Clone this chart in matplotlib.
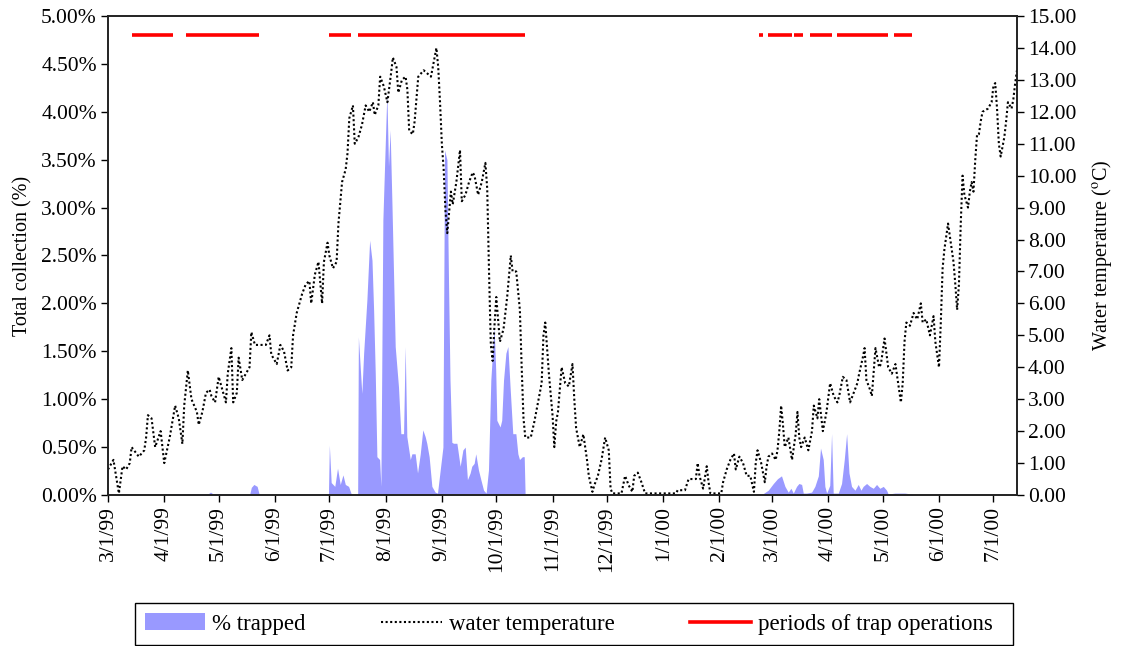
import matplotlib
matplotlib.use("Agg")
import matplotlib.pyplot as plt
import matplotlib.ticker as mticker
from matplotlib.patches import Patch, Rectangle
from matplotlib.lines import Line2D
import pandas as pd

# day offsets from 3/1/99
start_date = "1999-03-01"
end_day = 501

# water temperature (deg C)
temp_day = [0, 1, 3, 6, 8, 10, 12, 13, 17, 20, 21, 22, 24, 26, 29, 31, 34, 37, 39, 41,
            42, 44, 46, 49, 50, 52, 54, 56, 57, 59, 61, 63, 65, 66, 68, 69, 71, 72, 74, 76,
            78, 79, 81, 84, 87, 89, 90, 93, 95, 97, 99, 101, 102, 104, 107, 109, 111, 112, 114, 116,
            118, 119, 121, 122, 124, 126, 127, 129, 131, 132, 133, 135, 136, 138, 140, 142, 144, 146, 147, 149,
            150, 152, 154, 156, 157, 159, 160, 162, 164, 165, 166, 168, 169, 170, 171, 174, 176, 178, 179, 181,
            182, 183, 184, 185, 186, 187, 189, 190, 192, 194, 195, 197, 199, 201, 202, 204, 206, 208, 209, 210,
            211, 212, 213, 214, 216, 218, 220, 222, 223, 225, 227, 228, 229, 230, 233, 235, 237, 239, 240, 241,
            243, 245, 246, 247, 248, 250, 252, 254, 256, 257, 258, 260, 262, 264, 265, 267, 268, 270, 272, 274,
            276, 277, 278, 283, 285, 287, 289, 290, 292, 294, 296, 313, 314, 318, 320, 324, 325, 326, 328, 330,
            331, 332, 338, 339, 341, 343, 345, 346, 348, 350, 352, 354, 356, 357, 358, 360, 362, 363, 364, 366,
            368, 369, 370, 371, 372, 373, 375, 377, 379, 380, 381, 382, 384, 386, 388, 389, 391, 392, 394, 396,
            398, 400, 402, 403, 405, 407, 409, 411, 413, 414, 416, 417, 418, 420, 421, 423, 425, 426, 428, 430,
            432, 434, 436, 437, 438, 439, 440, 442, 444, 446, 448, 449, 451, 453, 455, 456, 457, 458, 459, 460,
            461, 462, 463, 465, 466, 467, 468, 469, 470, 471, 472, 474, 475, 476, 477, 478, 479, 480, 481, 482,
            485, 487, 488, 489, 490, 491, 492, 493, 494, 495, 496, 497, 498, 499, 500, 501]
temp_c = [0.8, 0.9, 1.1, 0.05, 0.9, 0.8, 1.0, 1.5, 1.2, 1.4, 1.8, 2.5, 2.4, 1.5, 2.0, 1.0, 1.8, 2.8, 2.4, 1.6,
          2.8, 3.9, 3.0, 2.6, 2.2, 2.6, 3.2, 3.3, 3.1, 2.9, 3.7, 3.3, 2.9, 3.8, 4.6, 2.9, 3.2, 4.3, 3.6, 3.8,
          4.0, 5.1, 4.7, 4.7, 4.7, 5.0, 4.4, 4.1, 4.7, 4.5, 3.9, 4.0, 5.0, 5.7, 6.3, 6.6, 6.7, 6.0, 6.9, 7.3,
          6.0, 7.3, 7.9, 7.5, 7.1, 7.3, 8.5, 9.8, 10.2, 10.7, 11.8, 12.2, 11.0, 11.2, 11.6, 12.2, 12.0, 12.3, 11.9, 12.2,
          13.1, 12.8, 12.3, 13.2, 13.7, 13.4, 12.6, 13.0, 13.1, 12.7, 11.4, 11.3, 11.7, 12.4, 13.1, 13.3, 13.2, 13.1, 13.4, 14.0,
          13.4, 12.3, 11.0, 10.2, 8.9, 8.2, 9.5, 9.1, 9.8, 10.8, 9.2, 9.4, 9.8, 10.1, 10.0, 9.4, 9.8, 10.4, 9.6, 7.0,
          4.7, 4.2, 5.3, 6.2, 4.8, 5.2, 6.2, 7.5, 7.0, 7.0, 5.8, 4.0, 2.4, 1.8, 1.8, 2.3, 2.9, 3.5, 5.0, 5.4,
          3.8, 2.5, 1.5, 2.3, 2.6, 4.0, 3.5, 3.4, 4.1, 3.0, 2.1, 1.5, 1.9, 1.1, 0.6, 0.1, 0.3, 0.6, 1.1, 1.8,
          1.4, 0.2, 0.05, 0.05, 0.6, 0.3, 0.1, 0.6, 0.7, 0.4, 0.05, 0.05, 0.15, 0.15, 0.5, 0.5, 1.0, 0.6, 0.2, 0.9,
          0.4, 0.05, 0.05, 0.4, 0.8, 1.1, 1.3, 0.8, 1.2, 1.0, 0.6, 0.6, 0.1, 1.0, 1.4, 1.0, 0.4, 0.9, 1.2, 1.3,
          1.1, 1.4, 2.0, 2.8, 2.2, 1.5, 1.8, 1.1, 1.9, 2.6, 1.8, 1.5, 1.8, 1.4, 2.0, 2.8, 2.4, 3.0, 2.0, 2.6,
          3.5, 3.1, 2.9, 3.1, 3.7, 3.6, 2.9, 3.2, 3.5, 3.8, 4.3, 4.6, 3.6, 3.3, 3.1, 4.6, 4.0, 4.1, 4.9, 4.0,
          3.8, 4.1, 3.3, 2.9, 3.5, 4.8, 5.4, 5.3, 5.7, 5.5, 6.0, 5.4, 5.5, 5.0, 5.6, 4.8, 4.4, 4.0, 5.4, 7.1,
          7.7, 8.1, 8.5, 7.7, 7.3, 6.6, 5.8, 6.6, 8.5, 10.0, 9.4, 9.0, 9.5, 9.8, 9.5, 10.5, 11.3, 11.3, 11.7, 12.0,
          12.1, 12.3, 12.8, 12.9, 12.1, 11.0, 10.6, 10.9, 11.2, 11.7, 12.3, 12.2, 12.1, 12.4, 12.9, 13.3]

# percent trapped
trap_day = [0, 35, 36, 45, 55, 56.5, 58, 66, 78, 79, 80.4, 82.2, 83.4,
            121.5, 122, 123, 125, 126.5, 128, 129.5, 130.8, 132.6, 133.9, 134.2,
            137.6, 138, 139.9, 140.9, 142.7, 144.2, 145.5, 146.4, 147.3, 148.2, 149.7, 150.4,
            151.5, 153.7, 154.6, 155.5, 156.5, 158.3, 160.1, 161.4, 162.9, 163.8, 164.7, 166.6,
            167.5, 169.3, 170.6, 172.1, 173.5, 174.8, 175.7, 177, 178.5, 180.3, 181.6, 183.1,
            184.6, 185.5, 186.8, 187.7, 188.5, 189.5, 190.4, 192.3, 194.1, 195.6, 196.9, 198.1,
            199.6, 200.5, 201.8, 202.7, 204.2, 205.5, 207, 208.4, 209.7, 211, 211.9, 212.8,
            213.7, 214.3, 216.1, 217, 218, 219.3, 220.4, 221.6, 223.1, 224.8, 225.9, 226.8,
            228.4, 229.4, 229.9,
            360, 363.9, 366.7, 369, 371.2, 373.1, 374.9, 376.4, 377.7, 379.5, 380.8, 382.3,
            383.2, 385, 387.8, 389.6, 391.5, 392.7, 394.2, 395.1, 396.1, 397.8, 398.8, 399.7,
            402.5, 404.3, 405.8, 407.1, 408.4, 409.8, 411.7, 413.5, 415, 416.2, 418.1, 419.9,
            421.8, 423.6, 425.4, 427.3, 429.1, 430, 433.7, 436.4, 439.2, 442.9, 444, 501]
trap_pct = [0, 0, 0.005, 0.01, 0.01, 0.03, 0.01, 0.01, 0, 0.08, 0.11, 0.09, 0,
            0, 0.52, 0.13, 0.09, 0.28, 0.11, 0.21, 0.11, 0.09, 0.02, 0,
            0, 1.65, 1.06, 1.48, 2.04, 2.66, 2.45, 1.93, 1.27, 0.40, 0.37, 0.09,
            2.87, 4.2, 3.43, 3.81, 3.04, 1.55, 1.13, 0.64, 0.64, 1.55, 0.61, 0.37,
            0.43, 0.43, 0.23, 0.43, 0.68, 0.61, 0.54, 0.40, 0.09, 0.03, 0.02, 0.26,
            0.5, 3.6, 3.5, 2.2, 1.2, 0.55, 0.54, 0.54, 0.3, 0.47, 0.5, 0.16,
            0.23, 0.3, 0.33, 0.43, 0.26, 0.16, 0.05, 0.02, 0.26, 1.2, 1.48, 1.75,
            1.3, 0.78, 0.71, 0.78, 1.2, 1.48, 1.55, 1.13, 0.64, 0.64, 0.43, 0.37,
            0.4, 0.4, 0,
            0, 0.05, 0.12, 0.17, 0.2, 0.09, 0.03, 0.07, 0.02, 0.09, 0.12, 0.11,
            0.02, 0.02, 0.03, 0.09, 0.2, 0.49, 0.37, 0.09, 0.02, 0.1, 0.64, 0.02,
            0.02, 0.12, 0.37, 0.64, 0.23, 0.09, 0.05, 0.11, 0.05, 0.09, 0.12, 0.09,
            0.07, 0.11, 0.07, 0.09, 0.05, 0.01, 0.02, 0.02, 0.02, 0.01, 0, 0]

# periods of trap operations
op_start = ["1999-03-14", "1999-04-13", "1999-07-01", "1999-07-17",
            "2000-02-23", "2000-02-28", "2000-03-13", "2000-03-22", "2000-04-06", "2000-05-07"]
op_end = ["1999-04-06", "1999-05-23", "1999-07-13", "1999-10-17",
          "2000-02-25", "2000-03-12", "2000-03-18", "2000-04-03", "2000-05-04", "2000-05-17"]
op_level = 4.8

month_ticks = pd.date_range("1999-03-01", "2000-07-01", freq="MS")
tick_labels = [f"{d.month}/{d.day}/{d.strftime('%y')}" for d in month_ticks]

plt.rcParams["font.family"] = ["Liberation Serif", "DejaVu Serif"]
plt.rcParams["mathtext.fontset"] = "stix"
fs_tick = 15.5
fs_label = 14.5
fs_legend = 16.5

start = pd.Timestamp(start_date)


def to_dates(days):
    return start + pd.to_timedelta(days, unit="D")


fig = plt.figure(figsize=(11.21, 6.46), dpi=100)
ax = fig.add_axes([108 / 1121, 1 - 495 / 646, (1017 - 108) / 1121, (495 - 16) / 646])
ax2 = ax.twinx()

ax.fill_between(to_dates(trap_day), trap_pct, 0, color="#9999FF", lw=0)
for s, e in zip(op_start, op_end):
    ax.plot([pd.Timestamp(s), pd.Timestamp(e)], [op_level, op_level], color="#FF0000", lw=2.6,
            solid_capstyle="butt")
ax2.plot(to_dates(temp_day), temp_c, color="black", lw=1.5, linestyle=(0, (1, 1.2)))

ax.set_xlim(start, to_dates(end_day))
ax.set_ylim(0, 5)
ax2.set_ylim(0, 15)
ax.yaxis.set_major_locator(mticker.MultipleLocator(0.5))
ax.yaxis.set_major_formatter(mticker.FuncFormatter(lambda v, p: f"{v:.2f}%"))
ax2.yaxis.set_major_locator(mticker.MultipleLocator(1))
ax2.yaxis.set_major_formatter(mticker.FuncFormatter(lambda v, p: f"{v:.2f}"))
ax.set_xticks(month_ticks)
ax.set_xticklabels(tick_labels, rotation=90)

for a in (ax, ax2):
    a.tick_params(direction="out", length=5, width=1, labelsize=fs_tick, colors="black", pad=3)
    for sp in a.spines.values():
        sp.set_linewidth(1.2)
        sp.set_color("#222222")

ax.set_ylabel("Total collection (%)", fontsize=fs_label, labelpad=6)
ax2.set_ylabel(r"Water temperature ($^{\rm o}$C)", fontsize=fs_label, labelpad=10)

# legend box below the plot
fig.patches.append(Rectangle((135 / 1121, 1 - 645 / 646), 878 / 1121, 42 / 646,
                             transform=fig.transFigure, facecolor="white",
                             edgecolor="black", lw=1.0))
handles = [Patch(facecolor="#9999FF", edgecolor="none"),
           Line2D([], [], color="black", lw=1.5, linestyle=(0, (1, 1.2))),
           Line2D([], [], color="#FF0000", lw=2.6)]
labels = ["% trapped", "water temperature", "periods of trap operations"]
fig.legend(handles, labels, loc="center left", ncol=3,
           bbox_to_anchor=(140 / 1121, 1 - 624 / 646),
           fontsize=fs_legend, frameon=False, handlelength=2.65,
           handletextpad=0.3, columnspacing=3.3, borderaxespad=0, borderpad=0.2)

fig.savefig("out.png", dpi=100)
